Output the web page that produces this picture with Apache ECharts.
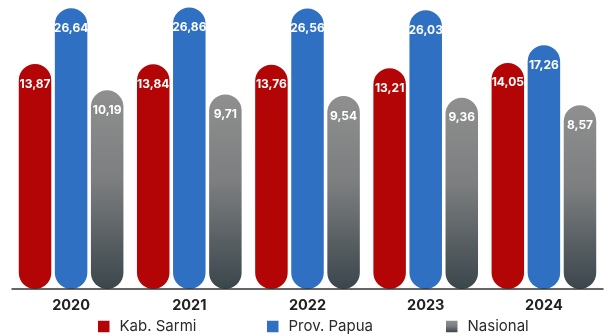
<!DOCTYPE html>
<html>
<head>
<meta charset="utf-8">
<script src="https://cdn.jsdelivr.net/npm/echarts@6/dist/echarts.min.js"></script>
<style>
  html, body { margin: 0; padding: 0; background: #ffffff; }
  #chart { width: 608px; height: 336px; }
</style>
</head>
<body>
<div id="chart"></div>
<script>
// Categories and series values
const years = ['2020', '2021', '2022', '2023', '2024'];
const kabSarmi = [13.87, 13.84, 13.76, 13.21, 14.05];
const provPapua = [26.64, 26.86, 26.56, 26.03, 17.26];
const nasional = [10.19, 9.71, 9.54, 9.36, 8.57];
const seriesNames = ['Kab. Sarmi', 'Prov. Papua', 'Nasional'];

const FONT = 'Inter, "Open Sans", sans-serif';
const RED = '#b30505';
const BLUE = '#2f70c2';
const GREY = new echarts.graphic.LinearGradient(0, 0, 0, 1, [
  { offset: 0, color: '#8f8f8f' },
  { offset: 0.45, color: '#7c7e7f' },
  { offset: 1, color: '#3b464c' }
]);

const fmt = p => p.value.toFixed(2).replace('.', ',');

function barSeries(name, data, color) {
  return {
    name: name,
    type: 'bar',
    data: data,
    barWidth: 32.5,
    barGap: '11%',
    itemStyle: { color: color, borderRadius: 16.25 },
    label: {
      show: true,
      position: 'insideTop',
      distance: 14,
      formatter: fmt,
      color: '#ffffff',
      fontFamily: FONT,
      fontWeight: 'bold',
      fontSize: 12
    }
  };
}

function legendFor(name, left) {
  return {
    data: [name],
    left: left,
    top: 319,
    icon: 'rect',
    itemWidth: 11.5,
    itemHeight: 11.5,
    padding: 0,
    selectedMode: false,
    textStyle: {
      fontFamily: FONT,
      fontSize: 15,
      color: '#2a2a2a',
      padding: [0, 0, 0, 5]
    }
  };
}

const chart = echarts.init(document.getElementById('chart'), null, { renderer: 'canvas' });
chart.setOption({
  animation: false,
  backgroundColor: '#ffffff',
  grid: { left: 12, right: 5, top: 0, bottom: 47, containLabel: false },
  legend: [
    legendFor(seriesNames[0], 98),
    legendFor(seriesNames[1], 267),
    legendFor(seriesNames[2], 446)
  ],
  xAxis: {
    type: 'category',
    data: years,
    axisTick: { show: false },
    axisLine: { show: true, lineStyle: { color: '#333333', width: 1.5 } },
    axisLabel: {
      margin: 9,
      color: '#222222',
      fontFamily: FONT,
      fontWeight: 'bold',
      fontSize: 14.5
    },
    z: 5
  },
  yAxis: {
    type: 'log',
    logBase: 10,
    min: 1,
    max: 29.3,
    show: false,
    splitLine: { show: false }
  },
  series: [
    barSeries(seriesNames[0], kabSarmi, RED),
    barSeries(seriesNames[1], provPapua, BLUE),
    barSeries(seriesNames[2], nasional, GREY)
  ]
});
</script>
</body>
</html>
